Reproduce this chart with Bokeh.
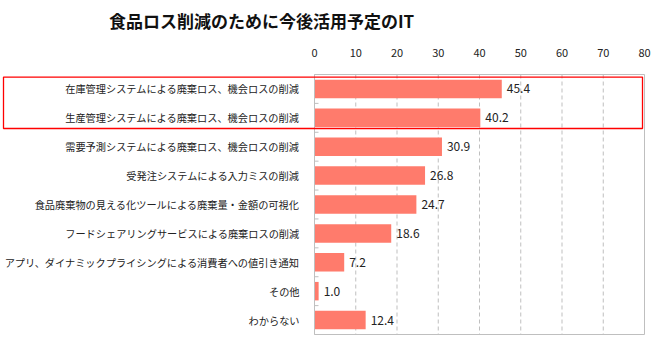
from bokeh.plotting import figure
from bokeh.models import Range1d, ColumnDataSource
from bokeh.core.properties import value
from bokeh.embed import file_html
from bokeh.resources import INLINE

title_text = "食品ロス削減のために今後活用予定のIT"
categories = [
    "在庫管理システムによる廃棄ロス、機会ロスの削減",
    "生産管理システムによる廃棄ロス、機会ロスの削減",
    "需要予測システムによる廃棄ロス、機会ロスの削減",
    "受発注システムによる入力ミスの削減",
    "食品廃棄物の見える化ツールによる廃棄量・金額の可視化",
    "フードシェアリングサービスによる廃棄ロスの削減",
    "アプリ、ダイナミックプライシングによる消費者への値引き通知",
    "その他",
    "わからない",
]
values = [45.4, 40.2, 30.9, 26.8, 24.7, 18.6, 7.2, 1.0, 12.4]
highlight = [0, 1]
x_ticks = [0, 10, 20, 30, 40, 50, 60, 70, 80]

JP = "Noto Sans CJK JP"
GRAY = "#BFBFBF"
BAR = "#FF7B6C"
TXT = "#222222"

W, H = 660, 341
# plot box position on the canvas (px)
BL, BR, BT, BB = 314, 644, 74, 334
n = len(categories)
xmin, xmax = x_ticks[0], x_ticks[-1]
PX = (BR - BL) / (xmax - xmin)
PY = (BB - BT) / n


def px2x(px):
    return xmin + (px - BL) / PX


def py2y(py):
    return -0.5 + (py - BT) / PY


idx = list(range(n))
src = ColumnDataSource(dict(y=idx, v=values, cat=categories,
                            lab=[f"{v:.1f}" for v in values]))
tick_src = ColumnDataSource(dict(x=x_ticks, lab=[str(t) for t in x_ticks]))

p = figure(width=W, height=H, output_backend="svg", toolbar_location=None,
           x_range=Range1d(px2x(0), px2x(W)), y_range=Range1d(py2y(H), py2y(0)),
           x_axis_location=None, y_axis_location=None,
           min_border_left=0, min_border_right=0, min_border_top=0,
           min_border_bottom=0)
p.outline_line_color = None
p.xgrid.visible = False
p.ygrid.visible = False
p.background_fill_color = "white"
p.border_fill_color = "white"

top_y, bot_y = -0.5, n - 0.5

# dashed grid
grid_x = x_ticks[1:-1]
p.segment(x0=grid_x, y0=[top_y] * len(grid_x), x1=grid_x, y1=[bot_y] * len(grid_x),
          line_color=GRAY, line_dash="4 3", line_width=1)

# bars
p.hbar(y="y", right="v", left=xmin, height=0.64, source=src,
       fill_color=BAR, line_color=None)

# plot box
p.quad(left=[xmin], right=[xmax], top=[top_y], bottom=[bot_y],
       fill_color=None, line_color=GRAY, line_width=1)

# category separators (ticks inward)
bounds = [i - 0.5 for i in range(n + 1)]
p.ray(x=[xmin] * len(bounds), y=bounds, length=4, length_units="screen",
      angle=0, line_color=GRAY, line_width=1)

# value labels
p.text(x="v", y="y", text="lab", source=src, x_offset=5,
       text_baseline="middle", text_align="left", text_font=value(JP),
       text_font_size="12px", text_color=TXT)

# category labels
p.text(x=xmin, y="y", text="cat", source=src, x_offset=-15,
       text_baseline="middle", text_align="right", text_font=value(JP),
       text_font_size="10.2px", text_color=TXT)

# x tick labels (above)
p.text(x="x", y=top_y, text="lab", source=tick_src, y_offset=-22,
       text_baseline="middle", text_align="center", text_font=value(JP),
       text_font_size="11px", text_color=TXT)

# highlight box
p.quad(left=[px2x(3)], right=[px2x(642)], top=[min(highlight) - 0.41],
       bottom=[max(highlight) + 0.37], fill_color=None,
       line_color="red", line_width=1.3)

# title
p.text(x=[px2x(261)], y=[py2y(20)], text=[title_text], text_align="center",
       text_baseline="middle", text_font=value(JP), text_font_size="17px",
       text_font_style="bold", text_color="#111111")

open("out.html", "w").write(file_html(p, INLINE))
